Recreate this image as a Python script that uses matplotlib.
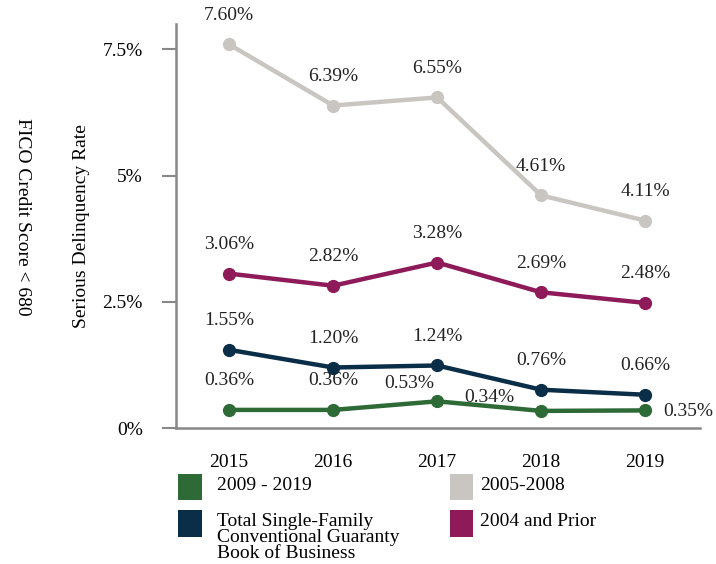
import matplotlib.pyplot as plt
from matplotlib.patches import Rectangle

plt.rcParams['font.family'] = ['Liberation Serif', 'DejaVu Serif']

annees = [2015, 2016, 2017, 2018, 2019]
s_2009_2019 = [0.36, 0.36, 0.53, 0.34, 0.35]
s_total = [1.55, 1.20, 1.24, 0.76, 0.66]
s_2005_2008 = [7.60, 6.39, 6.55, 4.61, 4.11]
s_2004_prior = [3.06, 2.82, 3.28, 2.69, 2.48]

noms = ['2009 - 2019', 'Total Single-Family\nConventional Guaranty\nBook of Business',
        '2005-2008', '2004 and Prior']
couleurs = ['#2e6a36', '#0a2d48', '#c9c6c1', '#8e1a59']
series = [s_2009_2019, s_total, s_2005_2008, s_2004_prior]

y_ticks = [0, 2.5, 5, 7.5]
y_labels = ['0%', '2.5%', '5%', '7.5%']

# decalages particuliers des etiquettes (points)
decalages = {(0, 2): (-20, 13), (0, 3): (-37, 10), (0, 4): (31, -1)}

fig = plt.figure(figsize=(7.16, 5.64), dpi=100)
ax = fig.add_axes([0.246, 0.241, 0.732, 0.716])

# ordre de trace : gris, magenta, navy, vert
for i in [2, 3, 1, 0]:
    ax.plot(annees, series[i], color=couleurs[i], lw=3.2, marker='o', ms=8.5,
            solid_capstyle='round', zorder=3)
    for j, (x, v) in enumerate(zip(annees, series[i])):
        dx, dy = decalages.get((i, j), (0, 21))
        ax.annotate(f'{v:.2f}%', (x, v), xytext=(dx, dy), textcoords='offset points',
                    ha='center', va='center', fontsize=14, color='#222222')

ax.set_xlim(2014.49, 2019.53)
ax.set_ylim(0, 8)
ax.set_yticks(y_ticks)
ax.set_yticklabels(y_labels)
ax.set_xticks(annees)
ax.set_xticklabels([str(a) for a in annees])
ax.tick_params(axis='x', length=0, pad=19, labelsize=14)
ax.tick_params(axis='y', length=10, width=1.5, color='#888888', labelsize=14, pad=14)
for s in ['top', 'right']:
    ax.spines[s].set_visible(False)
for s in ['left', 'bottom']:
    ax.spines[s].set_color('#888888')
    ax.spines[s].set_linewidth(1.8)

ax.set_ylabel('Serious Delinquency Rate', fontsize=14, va='center')
ax.yaxis.set_label_coords(-0.18, 0.5)
fig.text(0.031, 0.615, 'FICO Credit Score < 680', rotation=270, fontsize=14,
         ha='center', va='center')

# legende manuelle
pos = [(0.249, 0.113), (0.249, 0.048), (0.628, 0.113), (0.628, 0.048)]
for (px, py), nom, c in zip(pos, noms, couleurs):
    fig.add_artist(Rectangle((px, py), 0.033, 0.047, transform=fig.transFigure,
                             facecolor=c, edgecolor='none'))
    fig.text(px + 0.054 if px < 0.5 else px + 0.043, py + 0.042, nom, fontsize=14,
             va='top', ha='left', linespacing=0.92)

fig.savefig('out.png', dpi=100)
